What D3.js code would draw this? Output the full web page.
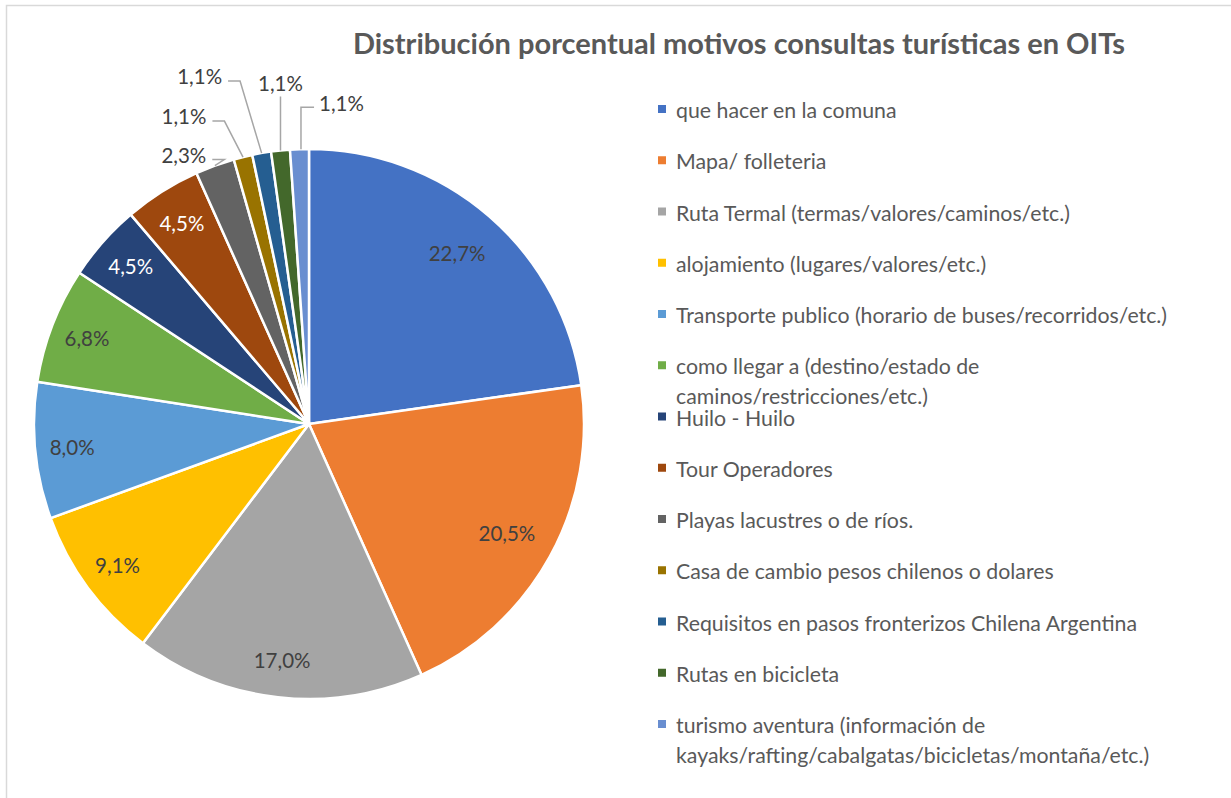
<!DOCTYPE html>
<html>
<head>
<meta charset="utf-8">
<script src="https://cdn.jsdelivr.net/npm/d3@7"></script>
<style>
  body { margin: 0; background: #fff; }
  svg { display: block; font-family: Lato, "Open Sans", sans-serif; }
</style>
</head>
<body>
<svg id="chart" width="1231" height="798"></svg>
<script>
// categorias del grafico (con salto de linea donde Excel lo corta)
const categories = [
  "que hacer en la comuna",
  "Mapa/ folleteria",
  "Ruta Termal (termas/valores/caminos/etc.)",
  "alojamiento (lugares/valores/etc.)",
  "Transporte publico (horario de buses/recorridos/etc.)",
  "como llegar a (destino/estado de\ncaminos/restricciones/etc.)",
  "Huilo - Huilo",
  "Tour Operadores",
  "Playas lacustres o de ríos.",
  "Casa de cambio pesos chilenos o dolares",
  "Requisitos en pasos fronterizos Chilena Argentina",
  "Rutas en bicicleta",
  "turismo aventura (información de\nkayaks/rafting/cabalgatas/bicicletas/montaña/etc.)"
];
// porcentajes
const values = [22.7, 20.5, 17.0, 9.1, 8.0, 6.8, 4.5, 4.5, 2.3, 1.1, 1.1, 1.1, 1.1];

const colors = ["#4472C4","#ED7D31","#A5A5A5","#FFC000","#5B9BD5","#70AD47",
                "#264478","#9E480E","#636363","#997300","#255E91","#43682B","#698ED0"];

const title = "Distribución porcentual motivos consultas turísticas en OITs";

// etiquetas que van fuera de la torta: indice -> desplazamiento desde el borde
const outside = {
  8:  {dx: -31, dy: -11, side: "left"},
  9:  {dx: -59, dy: -41, side: "left"},
  10: {dx: -62, dy: -77, side: "left"},
  11: {dx: 0,   dy: -67, side: "bottom"},
  12: {dx: 42,  dy: -46, side: "right"}
};

let cx = 309, cy = 424, r = 275;
let svg = d3.select("#chart");

// borde del area del grafico
svg.append("rect")
   .attr("x", 6.5).attr("y", 5.5)
   .attr("width", 1400).attr("height", 1000)
   .attr("fill", "none")
   .attr("stroke", "#d9d9d9")
   .attr("stroke-width", 1.5);

svg.append("text")
   .attr("x", 739).attr("y", 54)
   .attr("text-anchor", "middle")
   .attr("font-size", 29)
   .attr("font-weight", "bold")
   .attr("fill", "#595959")
   .text(title);

let pie = d3.pie().sort(null).value(d => d);
let arcs = pie(values);
let arc = d3.arc().innerRadius(0).outerRadius(r);
let edgeArc = d3.arc().innerRadius(r).outerRadius(r);
let labelArc = d3.arc().innerRadius(238).outerRadius(238);
let bigLabelArc = d3.arc().innerRadius(226).outerRadius(226);

let g = svg.append("g").attr("transform", "translate(" + cx + "," + cy + ")");

g.selectAll("path")
  .data(arcs)
  .enter()
  .append("path")
  .attr("d", arc)
  .attr("fill", (d, i) => colors[i])
  .attr("stroke", "#fff")
  .attr("stroke-width", 2.5)
  .attr("stroke-linejoin", "round");

let fmt = v => d3.format(".1f")(v).replace(".", ",") + "%";

// etiquetas de datos
arcs.forEach(function(d, i) {
  let text;
  if (outside[i]) {
    let o = outside[i];
    let e = edgeArc.centroid(d);
    text = g.append("text")
      .attr("x", e[0] + o.dx).attr("y", e[1] + o.dy)
      .attr("text-anchor", "middle")
      .attr("dominant-baseline", "central")
      .attr("font-size", 20.5)
      .attr("fill", "#404040")
      .text(fmt(values[i]));
    let b = text.node().getBBox();
    let ty = e[1] + o.dy;
    let pts;
    if (o.side == "left") {
      let x0 = b.x + b.width + 6;
      pts = [[x0, ty + 5], [x0 + 12, ty + 5], e];
    } else if (o.side == "right") {
      pts = [[b.x - 5, ty + 4], [e[0] + 1.5, ty + 4], [e[0] + 1.5, e[1]]];
    } else {
      pts = [[e[0], b.y + b.height + 1], e];
    }
    g.append("polyline")
      .attr("points", pts.map(p => p.join(",")).join(" "))
      .attr("fill", "none")
      .attr("stroke", "#a6a6a6")
      .attr("stroke-width", 1.5);
  } else {
    let c = (values[i] > 20 ? bigLabelArc : labelArc).centroid(d);
    g.append("text")
      .attr("x", c[0]).attr("y", c[1])
      .attr("text-anchor", "middle")
      .attr("dominant-baseline", "central")
      .attr("font-size", 20.5)
      .attr("fill", (i == 6 || i == 7) ? "#fff" : "#404040")
      .text(fmt(values[i]));
  }
});

// leyenda
let legendY = d3.scaleLinear().domain([0, categories.length - 1]).range([110, 725]);
let legend = svg.append("g")
  .selectAll("g")
  .data(categories)
  .enter()
  .append("g")
  .attr("transform", (d, i) => "translate(658," + legendY(i) + ")");

legend.append("rect")
  .attr("x", 0).attr("y", -5)
  .attr("width", 8).attr("height", 8)
  .attr("fill", (d, i) => colors[i]);

legend.append("text")
  .attr("x", 18)
  .attr("font-size", 21.3)
  .attr("fill", "#595959")
  .each(function(d) {
    let lines = d.split("\n");
    let t = d3.select(this);
    lines.forEach((ln, k) => {
      t.append("tspan")
        .attr("x", 18)
        .attr("y", k * 29.5)
        .attr("dominant-baseline", "central")
        .text(ln);
    });
  });
</script>
</body>
</html>
